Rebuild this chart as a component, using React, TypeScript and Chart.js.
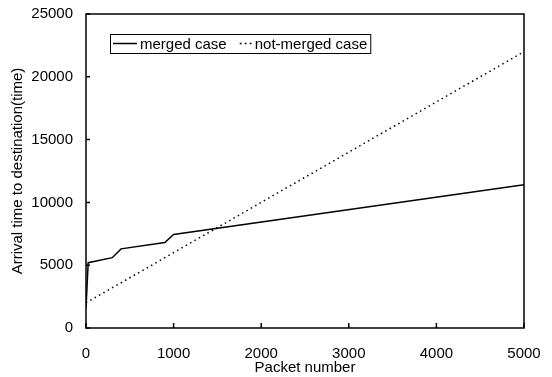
import { useEffect, useRef } from "react";
import { Chart, registerables } from "chart.js";
Chart.register(...registerables);

const seriesLabels = ["merged case", "not-merged case"];
const mergedX = [0, 25, 300, 400, 900, 1000, 5000];
const mergedY = [1600, 5200, 5600, 6300, 6800, 7450, 11400];
const notMergedX = [0, 1000, 2000, 3000, 4000, 5000];
const notMergedY = [2000, 6000, 10000, 14000, 18000, 22000];
const xTicks = [0, 1000, 2000, 3000, 4000, 5000];
const yTicks = [0, 5000, 10000, 15000, 20000, 25000];
const xTitle = "Packet number";
const yTitle = "Arrival time to destination(time)";

const FONT = "'Liberation Sans', Arial, sans-serif";

const framePlugin = {
  id: "frame",
  afterDatasetsDraw(chart: any) {
    const { ctx, chartArea: a, scales } = chart;
    ctx.save();
    ctx.strokeStyle = "#000";
    ctx.lineWidth = 1.5;
    ctx.strokeRect(a.left, a.top, a.right - a.left, a.bottom - a.top);
    ctx.beginPath();
    for (const v of xTicks) {
      const px = scales.x.getPixelForValue(v);
      ctx.moveTo(px, a.bottom);
      ctx.lineTo(px, a.bottom - 5);
    }
    for (const v of yTicks) {
      const py = scales.y.getPixelForValue(v);
      ctx.moveTo(a.left, py);
      ctx.lineTo(a.left + 4, py);
    }
    ctx.stroke();
    ctx.restore();
  },
};

const legendPlugin = {
  id: "boxLegend",
  afterDraw(chart: any) {
    const { ctx, chartArea: a } = chart;
    const ds = chart.data.datasets;
    ctx.save();
    ctx.font = `15px ${FONT}`;
    ctx.textBaseline = "middle";
    ctx.fillStyle = "#000";
    const x0 = a.left + 24;
    const y0 = a.top + 20;
    const h = 19;
    const sample = [24, 12];
    const gapAfter = [13, 3];
    let x = x0 + 3;
    const cy = y0 + h / 2;
    ds.forEach((d: any, i: number) => {
      ctx.strokeStyle = "#000";
      ctx.lineWidth = d.borderWidth;
      ctx.setLineDash(d.borderDash ? [1.8, 3.2] : []);
      ctx.beginPath();
      ctx.moveTo(x, cy);
      ctx.lineTo(x + sample[i], cy);
      ctx.stroke();
      ctx.setLineDash([]);
      x += sample[i] + 3;
      ctx.fillText(d.label, x, cy + 1);
      x += ctx.measureText(d.label).width + gapAfter[i];
    });
    ctx.lineWidth = 1;
    ctx.strokeRect(x0 + 0.5, y0 + 0.5, x - x0, h);
    ctx.restore();
  },
};

export default function App() {
  const ref = useRef<HTMLCanvasElement>(null);
  useEffect(() => {
    document.body.style.margin = "0";
    const chart = new Chart(ref.current!, {
      type: "line",
      data: {
        datasets: [
          {
            label: seriesLabels[0],
            data: mergedX.map((x, i) => ({ x, y: mergedY[i] })),
            borderColor: "#000",
            borderWidth: 1.5,
            pointRadius: 0,
            tension: 0,
          },
          {
            label: seriesLabels[1],
            data: notMergedX.map((x, i) => ({ x, y: notMergedY[i] })),
            borderColor: "#000",
            borderWidth: 1.5,
            borderDash: [1.5, 3.5],
            pointRadius: 0,
            tension: 0,
          },
        ],
      },
      options: {
        responsive: false,
        animation: false,
        layout: { padding: { left: 0, right: 28, top: 14, bottom: 0 } },
        plugins: { legend: { display: false }, tooltip: { enabled: false } },
        scales: {
          x: {
            type: "linear",
            min: 0,
            max: 5000,
            afterBuildTicks: (s: any) => {
              s.ticks = xTicks.map((v) => ({ value: v }));
            },
            afterFit: (s: any) => {
              s.height = 49;
              s.paddingLeft = 0;
              s.paddingRight = 0;
            },
            grid: { display: false, drawTicks: false },
            border: { display: false },
            ticks: {
              color: "#000",
              font: { size: 15, family: FONT },
              padding: 17,
              maxRotation: 0,
              callback: (v: any) => String(v),
            },
            title: {
              display: true,
              text: xTitle,
              color: "#000",
              font: { size: 15, family: FONT },
              padding: { top: 0, bottom: 0 },
            },
          },
          y: {
            type: "linear",
            min: 0,
            max: 25000,
            afterBuildTicks: (s: any) => {
              s.ticks = yTicks.map((v) => ({ value: v }));
            },
            afterFit: (s: any) => {
              s.width = 86;
              s.paddingTop = 0;
              s.paddingBottom = 0;
            },
            grid: { display: false, drawTicks: false },
            border: { display: false },
            ticks: {
              color: "#000",
              font: { size: 15, family: FONT },
              padding: 13,
              callback: (v: any) => String(v),
            },
            title: {
              display: true,
              text: yTitle,
              color: "#000",
              font: { size: 15, family: FONT },
              padding: { top: 9, bottom: 0 },
            },
          },
        },
      },
      plugins: [framePlugin, legendPlugin],
    });
    return () => chart.destroy();
  }, []);
  return (
    <div style={{ width: 552, height: 377, background: "#fff" }}>
      <canvas ref={ref} width={552} height={377} />
    </div>
  );
}
